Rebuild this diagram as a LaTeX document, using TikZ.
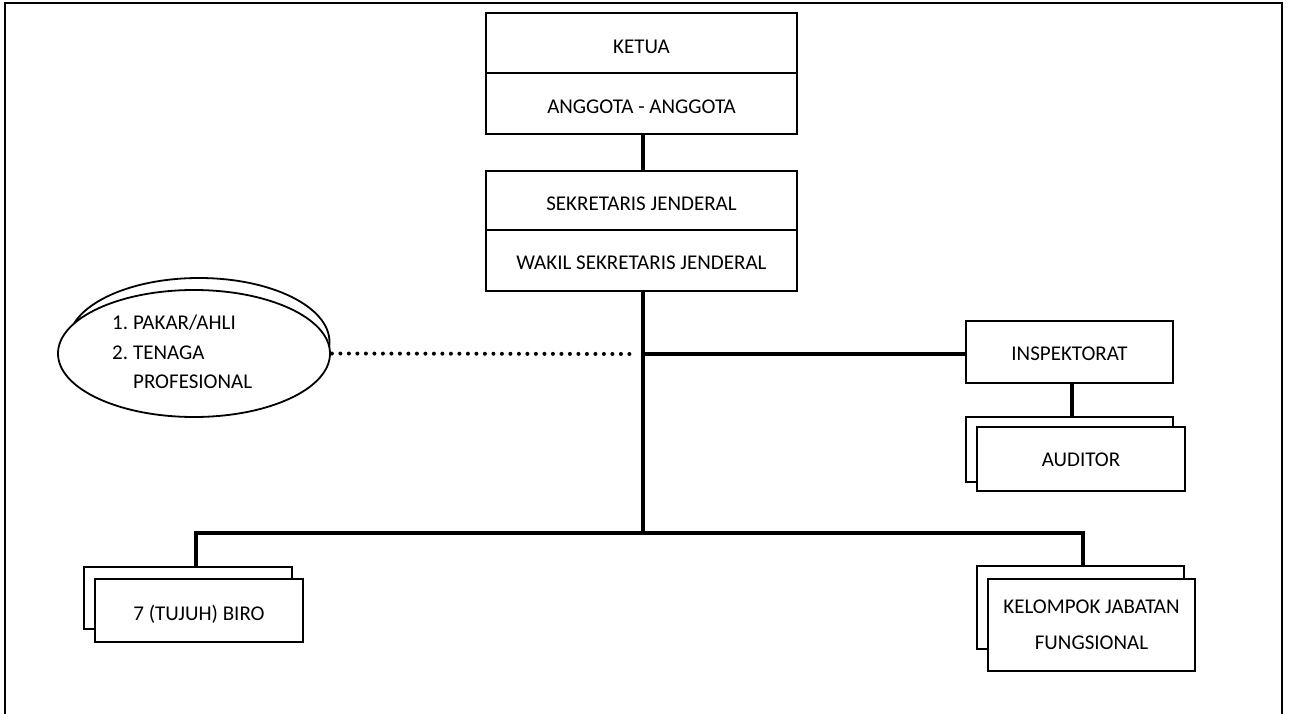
\documentclass[tikz,border=0pt]{standalone}
\usepackage{fontspec}
\setmainfont{Carlito}
\usetikzlibrary{shapes.geometric}
\begin{document}
\begin{tikzpicture}[x=1pt,y=-1pt,
  box/.style={draw, line width=1.8pt, fill=white, inner sep=0pt, font=\fontsize{21}{25}\selectfont},
  low/.style={text height=#1, text depth=0pt},
  oval/.style={draw, ellipse, line width=1.8pt, fill=white, inner sep=0pt},
  conn/.style={line width=3.8pt, line join=miter},
  dots/.style={line width=4pt, line cap=round, dash pattern=on 0pt off 8.5pt},
  frame/.style={line width=2pt}]
\useasboundingbox (0,0) rectangle (1290,714);
\draw[frame] (5,730) -- (5,3) -- (1282,3) -- (1282,730);

% top boxes
\node[box, low=21.5pt, minimum width=311pt, minimum height=60pt] (ketua) at (641.5,43) {KETUA};
\node[box, low=20.5pt, minimum width=311pt, minimum height=61pt] (anggota) at (641.5,103.5) {ANGGOTA - ANGGOTA};
\node[box, low=20.5pt, minimum width=311pt, minimum height=59pt] (sekjen) at (641.5,200.5) {SEKRETARIS JENDERAL};
\node[box, low=18.5pt, minimum width=311pt, minimum height=61pt] (wakil) at (641.5,260.5) {WAKIL SEKRETARIS JENDERAL};

% inspektorat / auditor
\node[box, low=16pt, minimum width=207pt, minimum height=62pt] (inspektorat) at (1069.5,352) {INSPEKTORAT};
\node[box, minimum width=207pt, minimum height=65pt] (auditorback) at (1069.5,449.5) {};
\node[box, low=15.5pt, minimum width=208pt, minimum height=64pt] (auditor) at (1081,459) {AUDITOR};

% biro
\node[box, minimum width=208pt, minimum height=62pt] (biroback) at (188,598) {};
\node[box, low=19pt, minimum width=208pt, minimum height=63pt] (biro) at (199,610.5) {7 (TUJUH) BIRO};

% kelompok
\node[box, minimum width=207pt, minimum height=83pt] (kelback) at (1080.5,607.5) {};
\node[box, minimum width=207pt, minimum height=92pt, align=center, font=\fontsize{21}{36}\selectfont] (kelompok) at (1091.5,625) {KELOMPOK JABATAN\\FUNGSIONAL};

% expert ellipse
\node[oval, minimum width=261pt, minimum height=128pt] (expertback) at (199,342) {};
\node[oval, minimum width=272pt, minimum height=127pt] (expert) at (194,353.5) {};
\node[anchor=west, inner sep=0pt, font=\fontsize{21}{29.5}\selectfont] (experttext) at (112,353.5)
  {\begin{tabular}{@{}l@{\hspace{5pt}}l@{}}1. & PAKAR/AHLI\\ 2. & TENAGA\\ & PROFESIONAL\end{tabular}};

% junctions
\coordinate (jmid) at (643,354);
\coordinate (jbot) at (643,533);
\coordinate (jleft) at (196,533);
\coordinate (jright) at (1083,533);
\coordinate (dotend) at (637,354);

% connectors
\draw[conn] (anggota.south -| jmid) -- (sekjen.north -| jmid);
\draw[conn] (wakil.south -| jmid) -- (jbot);
\draw[conn] (jmid) -- (inspektorat.west |- jmid);
\draw[conn] ([xshift=2.5pt]inspektorat.south) -- ([xshift=2.5pt]inspektorat.south |- auditorback.north);
\draw[conn] (biroback.north -| jleft) -- (jleft) -- (jright) -- (kelback.north -| jright);
\draw[dots] ([xshift=1pt]expert.east) -- (dotend);
\end{tikzpicture}
\end{document}
